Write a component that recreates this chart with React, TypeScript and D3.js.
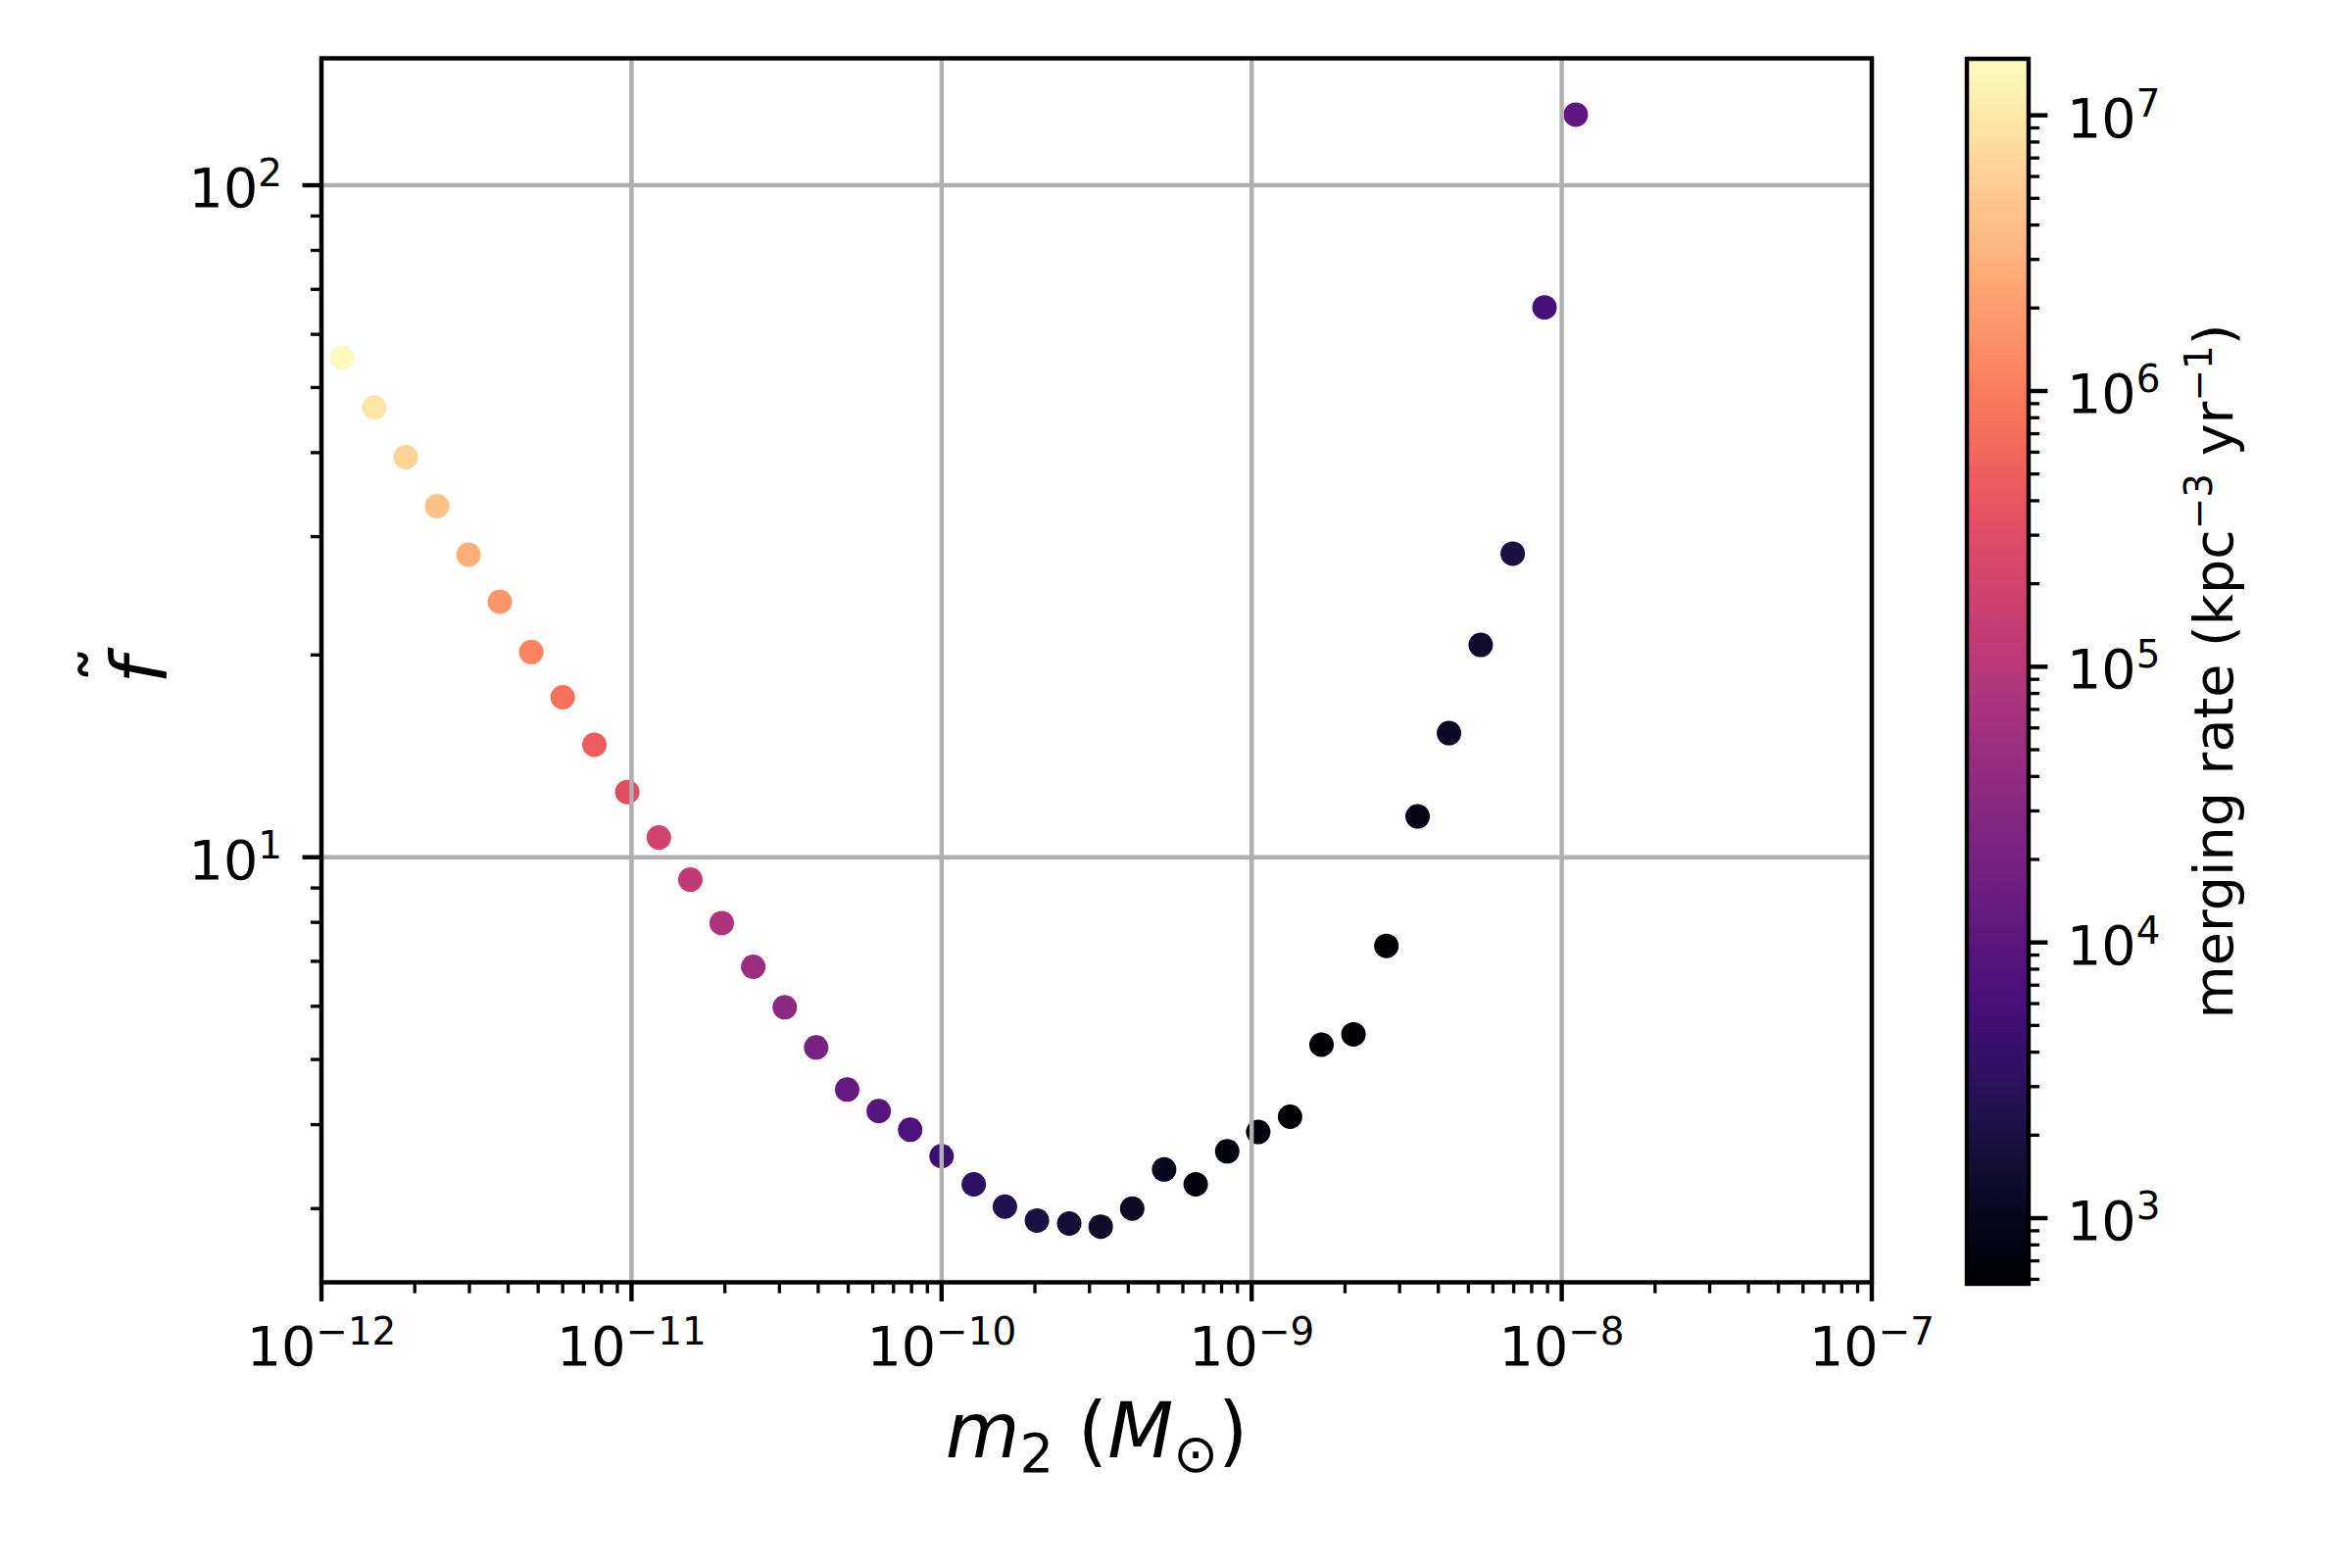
import React from "react";
import * as d3 from "d3";

// ---- data ----
const m2 = [
  1.165e-12, 1.48e-12, 1.87e-12, 2.36e-12, 2.98e-12, 3.76e-12, 4.75e-12, 6.0e-12, 7.59e-12, 9.69e-12,
  1.225e-11, 1.548e-11, 1.954e-11, 2.47e-11, 3.12e-11, 3.94e-11, 4.96e-11, 6.27e-11, 7.92e-11, 1.0e-10,
  1.27e-10, 1.6e-10, 2.03e-10, 2.58e-10, 3.26e-10, 4.12e-10, 5.22e-10, 6.6e-10, 8.34e-10, 1.05e-9,
  1.33e-9, 1.68e-9, 2.13e-9, 2.72e-9, 3.43e-9, 4.33e-9, 5.48e-9, 6.95e-9, 8.8e-9, 1.11e-8,
];
const fTilde = [
  55.4, 46.7, 39.4, 33.3, 28.2, 24.0, 20.2, 17.3, 14.7, 12.5,
  10.7, 9.26, 7.98, 6.87, 5.98, 5.21, 4.51, 4.19, 3.93, 3.59,
  3.26, 3.02, 2.88, 2.85, 2.82, 3.0, 3.43, 3.26, 3.65, 3.9,
  4.11, 5.26, 5.45, 7.38, 11.5, 15.3, 20.7, 28.3, 65.8, 127.4,
];
const rate = [
  1.5e7, 9.5e6, 6.3e6, 4.3e6, 2.8e6, 1.7e6, 1.12e6, 7.4e5, 4.9e5, 3.0e5,
  1.95e5, 1.32e5, 7.9e4, 5.2e4, 3.5e4, 2.1e4, 1.26e4, 9.1e3, 6.8e3, 4.7e3,
  3.3e3, 2.4e3, 1.95e3, 1.62e3, 1.32e3, 1.12e3, 1.07e3, 720, 740, 680,
  600, 590, 600, 630, 950, 1.17e3, 1.38e3, 1.95e3, 6.0e3, 1.12e4,
];
const xDomain = [1e-12, 1e-7];
const yDomain = [2.33, 154.5];
const cDomain = [578, 1.603e7];
const xTickExps = ["−12", "−11", "−10", "−9", "−8", "−7"];
const yTickExps = ["1", "2"];
const cTickExps = ["3", "4", "5", "6", "7"];

// ---- layout ----
const W = 2400;
const H = 1600;
const PT = 400 / 72;
const AX = { l: 328, r: 1910, t: 59.5, b: 1308.5 };
const CB = { l: 2007, r: 2070, t: 60, b: 1310 };
const FS = 10 * PT;
const SUP = 0.7 * FS;
const LW = 0.8 * PT;
const MAJ = 3.5 * PT;
const MIN = 2 * PT;
const FONT = "DejaVu Sans, sans-serif";

export default function App() {
  const x = d3.scaleLog().domain(xDomain).range([AX.l, AX.r]);
  const y = d3.scaleLog().domain(yDomain).range([AX.b, AX.t]);
  const c = d3.scaleLog().domain(cDomain).range([CB.b, CB.t]);
  const norm = d3.scaleLog().domain(cDomain).range([0, 1]).clamp(true);
  const color = (v: number) => d3.interpolateMagma(norm(v));

  const xMajor = xTickExps.map((e) => Math.pow(10, parseInt(e.replace("−", "-"))));
  const yMajor = yTickExps.map((e) => Math.pow(10, parseInt(e)));
  const cMajor = cTickExps.map((e) => Math.pow(10, parseInt(e)));
  const isMajor = (v: number) => Math.abs(Math.log10(v) - Math.round(Math.log10(v))) < 1e-6;
  const xMinor = x.ticks().filter((v) => !isMajor(v));
  const yMinor = y.ticks().filter((v) => !isMajor(v) && v >= yDomain[0] && v <= yDomain[1]);
  const cMinor = c.ticks().filter((v) => !isMajor(v) && v >= cDomain[0] && v <= cDomain[1]);

  const stops = d3.range(0, 1.0001, 0.02);
  const idx = d3.range(m2.length);

  return (
    <svg
      width={W}
      height={H}
      viewBox={`0 0 ${W} ${H}`}
      style={{ position: "absolute", left: 0, top: 0, background: "#fff" }}
      fontFamily={FONT}
    >
      <defs>
        <linearGradient id="magma" x1="0" y1="1" x2="0" y2="0">
          {stops.map((t) => (
            <stop key={t} offset={t} stopColor={d3.interpolateMagma(t)} />
          ))}
        </linearGradient>
      </defs>
      <rect x={0} y={0} width={W} height={H} fill="#fff" />

      {/* scatter */}
      <g>
        {idx.map((i) => (
          <circle key={i} cx={x(m2[i])} cy={y(fTilde[i])} r={12.5} fill={color(rate[i])} />
        ))}
      </g>

      {/* grid */}
      <g stroke="#b0b0b0" strokeWidth={LW}>
        {xMajor.map((v) => (
          <line key={v} x1={x(v)} x2={x(v)} y1={AX.t} y2={AX.b} />
        ))}
        {yMajor.map((v) => (
          <line key={v} x1={AX.l} x2={AX.r} y1={y(v)} y2={y(v)} />
        ))}
      </g>

      {/* spines */}
      <rect
        x={AX.l}
        y={AX.t}
        width={AX.r - AX.l}
        height={AX.b - AX.t}
        fill="none"
        stroke="#000"
        strokeWidth={LW}
      />

      {/* x ticks */}
      <g stroke="#000">
        {xMajor.map((v) => (
          <line key={v} x1={x(v)} x2={x(v)} y1={AX.b} y2={AX.b + MAJ} strokeWidth={LW} />
        ))}
        {xMinor.map((v) => (
          <line key={v} x1={x(v)} x2={x(v)} y1={AX.b} y2={AX.b + MIN} strokeWidth={0.6 * PT} />
        ))}
        {yMajor.map((v) => (
          <line key={v} x1={AX.l - MAJ} x2={AX.l} y1={y(v)} y2={y(v)} strokeWidth={LW} />
        ))}
        {yMinor.map((v) => (
          <line key={v} x1={AX.l - MIN} x2={AX.l} y1={y(v)} y2={y(v)} strokeWidth={0.6 * PT} />
        ))}
      </g>

      {/* x tick labels */}
      <g fontSize={FS} fill="#000">
        {xMajor.map((v, i) => (
          <text key={v} x={x(v)} y={AX.b + 84.5} textAnchor="middle">
            <tspan>10</tspan>
            <tspan fontSize={SUP} dy={-21}>
              {xTickExps[i]}
            </tspan>
          </text>
        ))}
        {yMajor.map((v, i) => (
          <text key={v} x={AX.l - 40} y={y(v) + 22} textAnchor="end">
            <tspan>10</tspan>
            <tspan fontSize={SUP} dy={-21}>
              {yTickExps[i]}
            </tspan>
          </text>
        ))}
      </g>

      {/* x label */}
      <text x={(AX.l + AX.r) / 2} y={1487} textAnchor="middle" fontSize={14 * PT} fill="#000">
        <tspan fontStyle="italic">m</tspan>
        <tspan fontSize={0.7 * 14 * PT} dy={15}>
          2
        </tspan>
        <tspan dy={-15}>{"\u00a0("}</tspan>
        <tspan fontStyle="italic">M</tspan>
        <tspan fontSize={0.7 * 14 * PT} dy={15}>
          ⊙
        </tspan>
        <tspan dy={-15}>)</tspan>
      </text>

      {/* y label: f tilde */}
      <g transform={`translate(${170},${(AX.t + AX.b) / 2}) rotate(-90)`} fill="#000">
        <text x={0} y={0} textAnchor="middle" fontSize={14 * PT} fontStyle="italic">
          f
        </text>
        <text x={6} y={-30} textAnchor="middle" fontSize={14 * PT}>
          ˜
        </text>
      </g>

      {/* colorbar */}
      <rect x={CB.l} y={CB.t} width={CB.r - CB.l} height={CB.b - CB.t} fill="url(#magma)" />
      <rect
        x={CB.l}
        y={CB.t}
        width={CB.r - CB.l}
        height={CB.b - CB.t}
        fill="none"
        stroke="#000"
        strokeWidth={LW}
      />
      <g stroke="#000">
        {cMajor.map((v) => (
          <line key={v} x1={CB.r} x2={CB.r + MAJ} y1={c(v)} y2={c(v)} strokeWidth={LW} />
        ))}
        {cMinor.map((v) => (
          <line key={v} x1={CB.r} x2={CB.r + MIN} y1={c(v)} y2={c(v)} strokeWidth={0.6 * PT} />
        ))}
      </g>
      <g fontSize={FS} fill="#000">
        {cMajor.map((v, i) => (
          <text key={v} x={CB.r + 39} y={c(v) + 22} textAnchor="start">
            <tspan>10</tspan>
            <tspan fontSize={SUP} dy={-21}>
              {cTickExps[i]}
            </tspan>
          </text>
        ))}
      </g>
      <text
        transform={`translate(${2278},${(CB.t + CB.b) / 2}) rotate(-90)`}
        textAnchor="middle"
        fontSize={FS}
        fill="#000"
      >
        <tspan>merging rate (kpc</tspan>
        <tspan fontSize={SUP} dy={-21}>
          −3
        </tspan>
        <tspan dy={21}>{"\u00a0yr"}</tspan>
        <tspan fontSize={SUP} dy={-21}>
          −1
        </tspan>
        <tspan dy={21}>)</tspan>
      </text>
    </svg>
  );
}
